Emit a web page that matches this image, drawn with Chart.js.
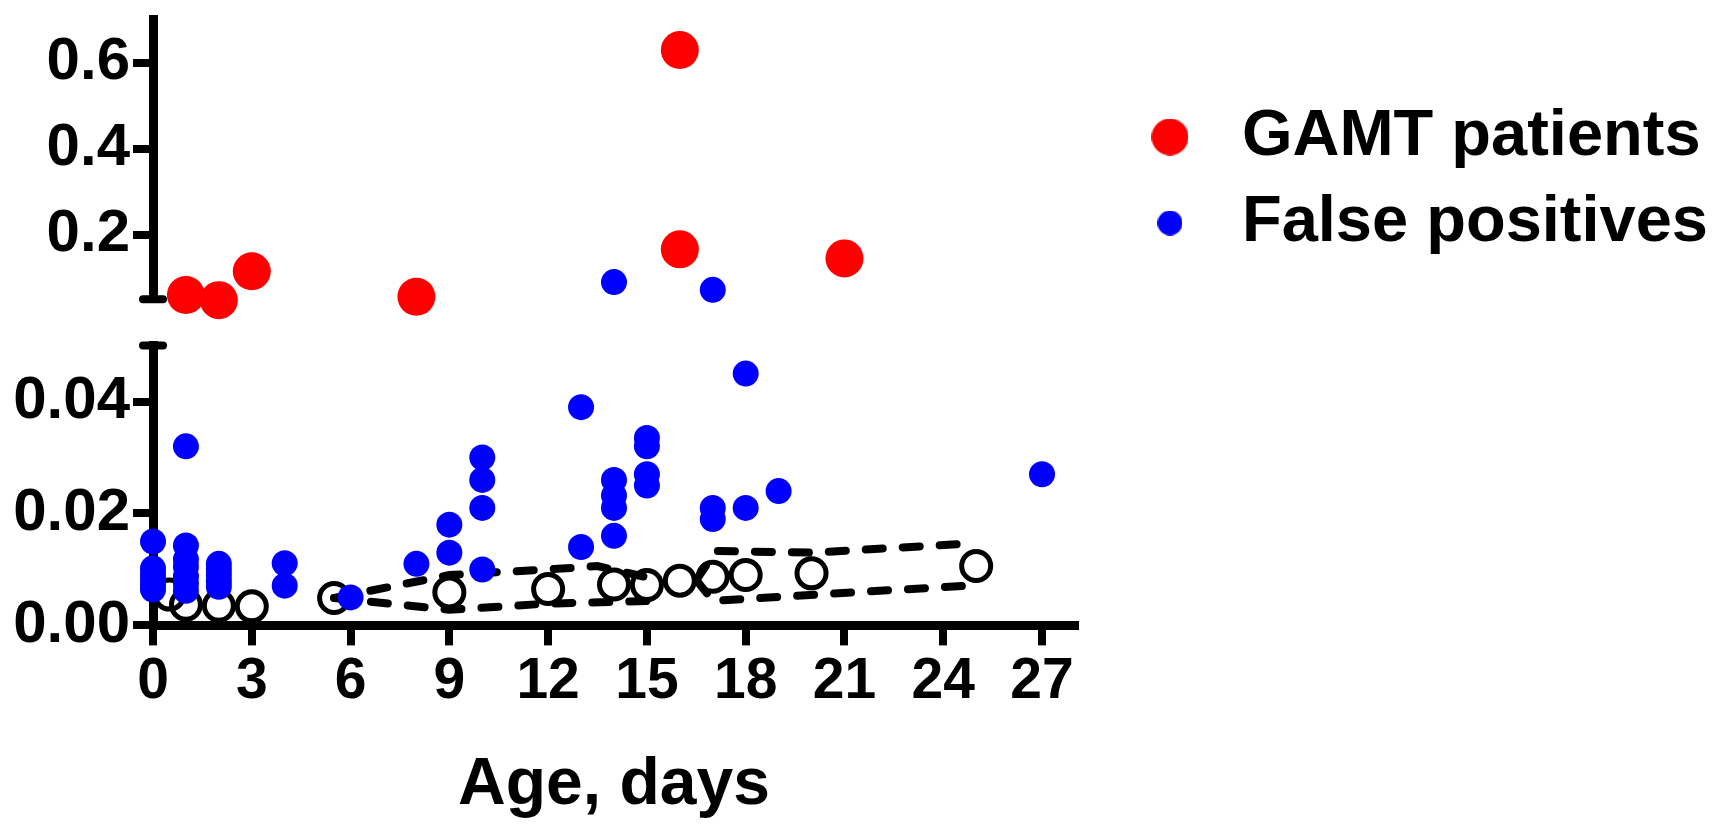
<!DOCTYPE html>
<html lang="en">
<head>
<meta charset="UTF-8" />
<title>GAMT patients and false positives by age</title>
<script src="https://cdn.jsdelivr.net/npm/chart.js"></script>
<style>
  html, body { margin: 0; padding: 0; background: #fff; }
  canvas { display: block; }
</style>
</head>
<body>
<canvas id="chart" width="1723" height="825"></canvas>

<script>
  // axis break and ticks
  const breakValue = 0.05;
  const xTicks = [0, 3, 6, 9, 12, 15, 18, 21, 24, 27];
  const yTopTicks = [0.2, 0.4, 0.6];
  const yBottomTicks = [0, 0.02, 0.04];

  // GAMT patients
  const gamtDays = [1, 2, 3, 8, 16, 16, 21];
  const gamtRatio = [0.060, 0.048, 0.115, 0.056, 0.629, 0.166, 0.145];

  // false positives
  const fpDays = [0, 0, 0, 0, 0, 0,
                  1, 1, 1, 1, 1, 1, 1,
                  2, 2, 2, 2, 2,
                  4, 4, 6, 8, 9, 9,
                  10, 10, 10, 10, 13, 13,
                  14, 14, 14, 14, 14,
                  15, 15, 15, 15,
                  17, 17, 17, 18, 18, 19, 27];
  const fpRatio = [0.0150, 0.0102, 0.0092, 0.0082, 0.0072, 0.0064,
                   0.0320, 0.0143, 0.0118, 0.0105, 0.0088, 0.0075, 0.0062,
                   0.0110, 0.0100, 0.0090, 0.0079, 0.0069,
                   0.0111, 0.0071, 0.0050, 0.0110, 0.0180, 0.0130,
                   0.0300, 0.0260, 0.0210, 0.0100, 0.0390, 0.0140,
                   0.0900, 0.0260, 0.0232, 0.0210, 0.0160,
                   0.0335, 0.0320, 0.0270, 0.0250,
                   0.0720, 0.0210, 0.0190, 0.0450, 0.0210, 0.0240, 0.0270];

  // controls (open circles) and dashed limits
  const ctrlDays = [0.5, 1, 2, 3, 5.5, 9, 12, 14, 15, 16, 17, 18, 20, 25];
  const ctrlMedian = [0.0055, 0.0037, 0.0035, 0.0034, 0.0049, 0.0059, 0.0065, 0.0073, 0.0072, 0.0080, 0.0087, 0.0090, 0.0093, 0.0106];
  const upper1Days = [5.5, 9, 12, 13.5, 15.3];
  const upper1 = [0.0049, 0.0090, 0.0100, 0.0106, 0.0082];
  const lower1Days = [5.5, 9, 12, 15.3];
  const lower1 = [0.0049, 0.0028, 0.0039, 0.0044];
  const upper2Days = [16.5, 17.1, 20, 25];
  const upper2 = [0.0081, 0.0133, 0.0130, 0.0147];
  const lower2Days = [16.5, 17, 25];
  const lower2 = [0.0081, 0.0044, 0.0072];

  const pts = (xs, ys) => xs.map((x, i) => ({ x: x, y: ys[i] }));
  const fpAll = pts(fpDays, fpRatio);

  function dot(r, color) {
    const c = document.createElement('canvas');
    c.width = c.height = Math.ceil(r * 2);
    const g = c.getContext('2d');
    g.fillStyle = color;
    g.beginPath();
    g.arc(c.width / 2, c.height / 2, r, 0, Math.PI * 2);
    g.fill();
    return c;
  }

  function dashed(data) {
    return {
      data: data, yAxisID: 'yBottom', showLine: true, pointRadius: 0,
      borderColor: '#000', borderWidth: 8, borderDash: [17, 20], borderCapStyle: 'round',
      fill: false, order: 2, clip: false
    };
  }

  const fitY = s => { s.width = 153; s.paddingTop = 0; s.paddingBottom = 0; };
  const yGrid = { drawOnChartArea: false, tickLength: 20, lineWidth: 8, color: '#000' };
  const yBorder = { width: 9, color: '#000' };

  // short bars at both ends of the axis break
  const breakCaps = {
    id: 'breakCaps',
    beforeDatasetsDraw(chart) {
      const ctx = chart.ctx;
      const x = chart.chartArea.left;
      ctx.save();
      ctx.strokeStyle = '#000';
      ctx.lineWidth = 8;
      ctx.lineCap = 'round';
      ['yTop', 'yBottom'].forEach(id => {
        const y = chart.scales[id].getPixelForValue(breakValue);
        ctx.beginPath();
        ctx.moveTo(x - 10, y);
        ctx.lineTo(x + 10, y);
        ctx.stroke();
      });
      ctx.restore();
    }
  };

  Chart.defaults.font.family = "'Liberation Sans', Arial, sans-serif";
  Chart.defaults.font.weight = 'bold';
  Chart.defaults.color = '#000';

  new Chart(document.getElementById('chart'), {
    type: 'scatter',
    data: {
      datasets: [
        {
          label: 'GAMT patients', data: pts(gamtDays, gamtRatio), yAxisID: 'yTop',
          pointRadius: 19, pointBackgroundColor: '#ff0000', pointBorderWidth: 0,
          order: 0, clip: false, legendIcon: dot(18.5, '#ff0000')
        },
        {
          label: 'False positives', data: fpAll.filter(p => p.y <= breakValue), yAxisID: 'yBottom',
          pointRadius: 13, pointBackgroundColor: '#0000ff', pointBorderWidth: 0,
          order: 1, clip: false, legendIcon: dot(12.5, '#0000ff')
        },
        {
          label: 'False positives (high)', data: fpAll.filter(p => p.y > breakValue), yAxisID: 'yTop',
          pointRadius: 13, pointBackgroundColor: '#0000ff', pointBorderWidth: 0,
          order: 1, clip: false
        },
        dashed(pts(upper1Days, upper1)),
        dashed(pts(lower1Days, lower1)),
        dashed(pts(upper2Days, upper2)),
        dashed(pts(lower2Days, lower2)),
        {
          label: 'Controls', data: pts(ctrlDays, ctrlMedian), yAxisID: 'yBottom',
          pointRadius: 14.5, pointBorderWidth: 5, pointBorderColor: '#000',
          pointBackgroundColor: 'rgba(0,0,0,0)', order: 3, clip: false
        }
      ]
    },
    options: {
      responsive: false,
      animation: false,
      events: [],
      layout: { padding: { top: 13, right: 5, bottom: 0, left: 0 } },
      plugins: {
        tooltip: { enabled: false },
        legend: {
          position: 'right',
          align: 'start',
          maxWidth: 700,
          title: { display: true, text: '', font: { size: 50 }, padding: { top: 10.5, bottom: 0 } },
          labels: {
            usePointStyle: true,
            pointStyleWidth: 79,
            padding: 21,
            color: '#000',
            font: { size: 65, weight: 'bold' },
            generateLabels: chart => Chart.defaults.plugins.legend.labels.generateLabels(chart)
              .filter(item => chart.data.datasets[item.datasetIndex].legendIcon)
              .map(item => Object.assign(item, { pointStyle: chart.data.datasets[item.datasetIndex].legendIcon }))
          }
        }
      },
      scales: {
        x: {
          type: 'linear', min: 0, max: 28,
          afterBuildTicks: s => { s.ticks = xTicks.map(v => ({ value: v })); },
          grid: { drawOnChartArea: false, tickLength: 20, lineWidth: 8, color: '#000' },
          border: { width: 9, color: '#000' },
          ticks: { font: { size: 57 }, padding: 3, maxRotation: 0, autoSkip: false },
          title: { display: true, text: 'Age, days', font: { size: 66 }, padding: { top: 26, bottom: 0 } }
        },
        yTop: {
          type: 'linear', position: 'left', stack: 'y', stackWeight: 284, weight: 3,
          min: breakValue, max: 0.7,
          afterBuildTicks: s => { s.ticks = yTopTicks.map(v => ({ value: v })); },
          afterFit: fitY,
          grid: yGrid, border: yBorder,
          ticks: { font: { size: 60 }, padding: 3, callback: v => v.toFixed(1) }
        },
        yGap: {
          type: 'linear', position: 'left', stack: 'y', stackWeight: 47, weight: 2,
          min: 0, max: 1,
          grid: { display: false }, border: { display: false }, ticks: { display: false }
        },
        yBottom: {
          type: 'linear', position: 'left', stack: 'y', stackWeight: 284, weight: 1,
          min: 0, max: breakValue,
          afterBuildTicks: s => { s.ticks = yBottomTicks.map(v => ({ value: v })); },
          afterFit: fitY,
          grid: yGrid, border: yBorder,
          ticks: { font: { size: 60 }, padding: 3, callback: v => v.toFixed(2) }
        },
        yPad: {
          type: 'linear', position: 'right', min: 0, max: 1,
          grid: { display: false }, border: { display: false }, ticks: { display: false },
          afterFit: s => { s.width = 34.5; }
        }
      }
    },
    plugins: [breakCaps]
  });
</script>
</body>
</html>
